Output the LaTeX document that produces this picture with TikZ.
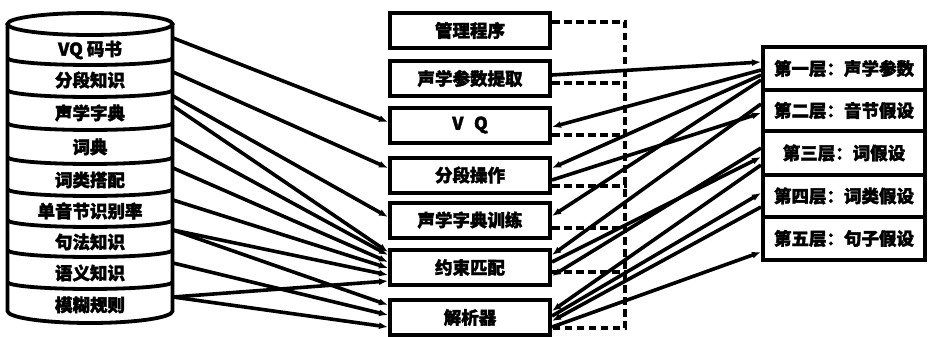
\documentclass[tikz,border=0pt]{standalone}
\usepackage{fontspec}
\newfontfamily\cjk[BoldFeatures={FakeBold=2}]{Noto Sans CJK SC}
\usetikzlibrary{arrows.meta}
\begin{document}
\begin{tikzpicture}[x=1pt,y=-1pt,
  txt/.style={font=\cjk\bfseries\fontsize{17.5}{20}\selectfont, inner sep=0pt},
  mbox/.style={txt, draw, line width=4pt, minimum width=160pt, minimum height=35pt},
  rbox/.style={txt, draw, line width=4pt, minimum width=162pt},
  conn/.style={line width=3.6pt, -{Latex[length=9pt,width=7pt]}},
  dsh/.style={line width=3.4pt, dash pattern=on 7.5pt off 4.5pt},
  cyl/.style={line width=3.8pt}]
\useasboundingbox (0,0) rectangle (929,337);

% cylinder
\draw[cyl] (90,24) ellipse [x radius=82.5pt, y radius=11pt];
\draw[cyl] (7.5,24) -- (7.5,311) arc[start angle=180, end angle=360, x radius=82.5pt, y radius=12pt] -- (172.5,24);
\foreach \yy in {58,90,123,157,189,220,250,282}
  \draw[cyl] (7.5,\yy) arc[start angle=180, end angle=360, x radius=82.5pt, y radius=7pt];

\node[txt] (k1) at (90,50) {VQ 码书};
\node[txt] (k2) at (90,80) {分段知识};
\node[txt] (k3) at (90,113) {声学字典};
\node[txt] (k4) at (90,147) {词典};
\node[txt] (k5) at (90,180) {词类搭配};
\node[txt] (k6) at (90,211) {单音节识别率};
\node[txt] (k7) at (90,242) {句法知识};
\node[txt] (k8) at (90,273) {语义知识};
\node[txt] (k9) at (90,305) {模糊规则};

% middle modules
\node[mbox] (m0) at (470,30.5) {管理程序};
\node[mbox] (m1) at (470,78.5) {声学参数提取};
\node[mbox] (m2) at (470,125) {V\hspace{0.6em}Q};
\node[mbox] (m3) at (470,175) {分段操作};
\node[mbox] (m4) at (470,220) {声学字典训练};
\node[mbox] (m5) at (470,267.5) {约束匹配};
\node[mbox] (m6) at (470,317.5) {解析器};

% right layers
\node[rbox, minimum height=43pt] (r1) at (844,68.5) {第一层：声学参数};
\node[rbox, minimum height=41pt] (r2) at (844,110.5) {第二层：音节假设};
\node[rbox, minimum height=44pt] (r3) at (844,153) {第三层：词假设};
\node[rbox, minimum height=42pt] (r4) at (844,196) {第四层：词类假设};
\node[rbox, minimum height=43pt] (r5) at (844,238.5) {第五层：句子假设};

% dashed control lines
\coordinate (dtop) at (625,22);
\coordinate (dbot) at (625,328);
\draw[dsh] ([yshift=8.5pt]m0.east) -- (dtop) -- (dbot) -- ([yshift=-10.5pt]m6.east);
\draw[dsh] ([yshift=-4.5pt]m1.east) -- +(75,0);
\draw[dsh] ([yshift=-10pt]m2.east) -- +(75,0);
\draw[dsh] ([yshift=-11pt]m3.east) -- +(75,0);
\draw[dsh] ([yshift=-8pt]m4.east) -- +(75,0);
\draw[dsh] ([yshift=-4.5pt]m5.east) -- +(75,0);

% cylinder exit points
\coordinate (c1) at (173,38);
\coordinate (c2) at (173,72);
\coordinate (c3) at (173,96);
\coordinate (c4) at (173,106);
\coordinate (c5) at (173,138);
\coordinate (c6) at (173,168);
\coordinate (c7) at (173,200);
\coordinate (c8) at (173,230);
\coordinate (c9) at (173,263);
\coordinate (c10) at (173,297);

% knowledge -> modules
\draw[conn] (c1) -- ([yshift=3pt]m2.west);
\draw[conn] (c2) -- ([yshift=7pt]m3.west);
\draw[conn] (c3) -- ([yshift=3pt]m4.west);
\draw[conn] (c4) -- ([yshift=15.5pt]m5.west);
\draw[conn] (c5) -- ([yshift=12.5pt]m5.west);
\draw[conn] (c6) -- ([yshift=5.5pt]m5.west);
\draw[conn] (c7) -- ([yshift=-0.5pt]m5.west);
\draw[conn] (c8) -- ([yshift=-7.5pt]m5.west);
\draw[conn] (c8) -- ([yshift=12.5pt]m6.west);
\draw[conn] (c9) -- ([yshift=2.5pt]m6.west);
\draw[conn] (c10) -- ([yshift=-13.5pt]m5.west);
\draw[conn] (c10) -- ([yshift=-9.5pt]m6.west);

% modules <-> layers
\draw[conn] ([yshift=3.5pt]m1.east) -- ([yshift=6.5pt]r1.west);
\draw[conn] ([yshift=-1.5pt]r1.west) -- ([yshift=-2pt]m2.east);
\draw[conn] ([yshift=-6.5pt]r1.west) -- ([yshift=7pt]m3.east);
\draw[conn] ([yshift=-5pt]m3.east) -- ([yshift=-2.5pt]r2.west);
\draw[conn] ([yshift=-11.5pt]r1.west) -- ([yshift=4pt]m4.east);
\draw[conn] ([yshift=6.5pt]r2.west) -- ([yshift=12.5pt]m5.east);
\draw[conn] ([yshift=5.5pt]m5.east) -- ([yshift=-4pt]r3.west);
\draw[conn] ([yshift=5pt]r3.west) -- ([yshift=-8.5pt]m5.east);
\draw[conn] ([yshift=-12pt]r3.west) -- ([yshift=6.5pt]m6.east);
\draw[conn] ([yshift=1.5pt]m6.east) -- ([yshift=3pt]r4.west);
\draw[conn] ([yshift=-11pt]r4.west) -- ([yshift=-3.5pt]m6.east);
\draw[conn] ([yshift=-9.5pt]m6.east) -- ([yshift=-13.5pt]r5.west);
\end{tikzpicture}
\end{document}
